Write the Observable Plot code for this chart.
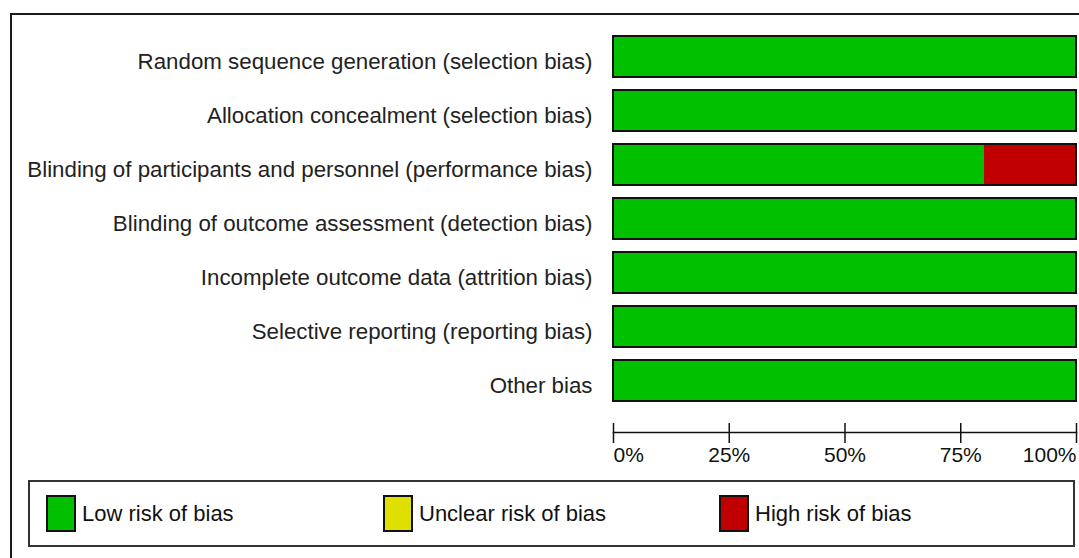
<!DOCTYPE html>
<html>
<head>
<meta charset="utf-8">
<script src="https://cdn.jsdelivr.net/npm/d3@7"></script>
<script src="https://cdn.jsdelivr.net/npm/@observablehq/plot@0.6"></script>
<style>
  html, body { margin: 0; padding: 0; background: #fff; overflow: hidden; }
  #wrap { position: relative; width: 1079px; height: 558px; overflow: hidden; font-family: "Liberation Sans", Arial, sans-serif; }
  #frame { position: absolute; left: 10px; top: 13px; width: 1100px; height: 600px; border: 2px solid #1a1a1a; box-sizing: border-box; pointer-events: none; }
  #chart { position: absolute; left: 0; top: 0; }
  #legend { position: absolute; left: 28px; top: 480px; width: 1047px; height: 67px; border: 2px solid #333; box-sizing: border-box; background: #fff; }
  .sw { position: absolute; top: 13px; width: 30px; height: 37px; border: 2px solid #111; box-sizing: border-box; }
  .lt { position: absolute; top: 19px; font-size: 22px; line-height: 26px; color: #111; white-space: nowrap; }
</style>
</head>
<body>
<div id="wrap">
  <div id="chart"></div>
  <div id="legend"></div>
  <div id="frame"></div>
</div>
<script>
// ---- data ----
const domains = [
  "Random sequence generation (selection bias)",
  "Allocation concealment (selection bias)",
  "Blinding of participants and personnel (performance bias)",
  "Blinding of outcome assessment (detection bias)",
  "Incomplete outcome data (attrition bias)",
  "Selective reporting (reporting bias)",
  "Other bias"
];
const lowRisk     = [100, 100, 80, 100, 100, 100, 100];
const unclearRisk = [0, 0, 0, 0, 0, 0, 0];
const highRisk    = [0, 0, 20, 0, 0, 0, 0];

const judgements = ["Low risk of bias", "Unclear risk of bias", "High risk of bias"];
const judgementColors = ["#00c000", "#e0e000", "#c00000"];
const xTicks = [0, 25, 50, 75, 100];

// ---- derived tables ----
const series = [lowRisk, unclearRisk, highRisk];
const rows = [];
domains.forEach((d, i) => {
  judgements.forEach((j, k) => {
    rows.push({domain: d, judgement: j, value: series[k][i]});
  });
});
const totals = domains.map((d, i) => ({domain: d, value: lowRisk[i] + unclearRisk[i] + highRisk[i]}));

const font = "'Liberation Sans', Arial, sans-serif";
const tickStyle = {tickFormat: d => d + "%", tickSize: 20, tickPadding: 4, dy: 7, fontSize: 21, fill: "#111", stroke: "#111", strokeWidth: 1.5, label: null};

const chart = Plot.plot({
  width: 1079,
  height: 478,
  marginLeft: 613,
  marginRight: 3,
  marginTop: 21,
  marginBottom: 62,
  style: {fontFamily: font, background: "transparent", overflow: "visible"},
  x: {domain: [0, 100], axis: null},
  y: {domain: domains, padding: 0.25, axis: null},
  color: {domain: judgements, range: judgementColors},
  marks: [
    Plot.barX(rows, Plot.stackX({x: "value", y: "domain", fill: "judgement", order: judgements})),
    Plot.barX(totals, {x: "value", y: "domain", fill: "none", stroke: "#111", strokeWidth: 2}),
    Plot.axisY({tickSize: 0, tickPadding: 21, fontSize: 22.3, fill: "#222", dy: 5, textAnchor: "end", label: null}),
    Plot.frame({anchor: "bottom", dy: 16, stroke: "#111", strokeWidth: 1.5}),
    Plot.axisX({...tickStyle, ticks: [xTicks[0]], textAnchor: "start"}),
    Plot.axisX({...tickStyle, ticks: xTicks.slice(1, -1), textAnchor: "middle"}),
    Plot.axisX({...tickStyle, ticks: [xTicks[xTicks.length - 1]], textAnchor: "end"})
  ]
});
document.getElementById("chart").appendChild(chart);

// ---- legend ----
const legend = document.getElementById("legend");
const swatchLeft = [16, 353, 689];
judgements.forEach((j, k) => {
  const sw = document.createElement("div");
  sw.className = "sw";
  sw.style.left = swatchLeft[k] + "px";
  sw.style.background = judgementColors[k];
  legend.appendChild(sw);
  const t = document.createElement("div");
  t.className = "lt";
  t.style.left = (swatchLeft[k] + 36) + "px";
  t.textContent = j;
  legend.appendChild(t);
});
</script>
</body>
</html>
